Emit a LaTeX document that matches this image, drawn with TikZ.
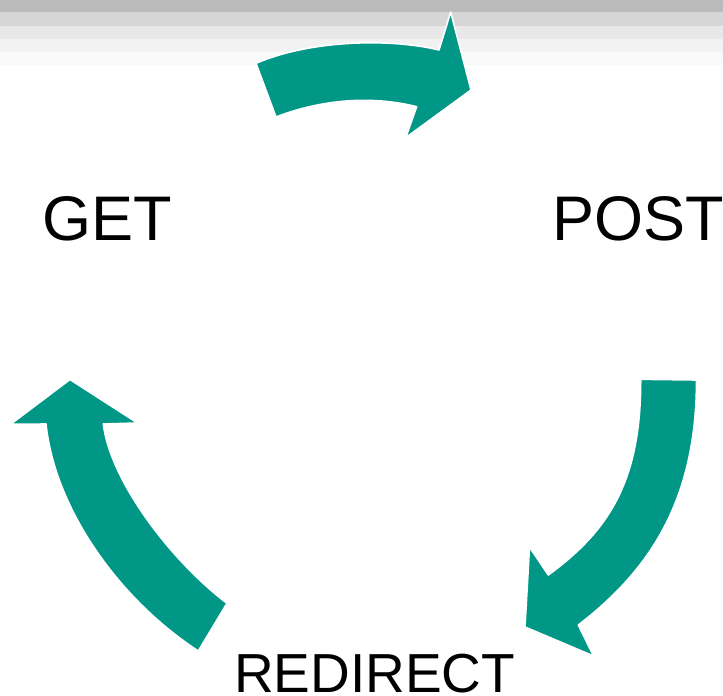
\documentclass[tikz,border=0pt]{standalone}
\usepackage{fontspec}
\setmainfont{Liberation Sans}
\usepackage{tikz}

\definecolor{prgteal}{RGB}{0,151,135}

\begin{document}
\begin{tikzpicture}[x=1pt,y=-1pt]
		\tikzstyle{verb}=[anchor=base west,inner sep=0pt,font=\fontsize{63}{70}\selectfont]
		\tikzstyle{cyclearrow}=[fill=prgteal,draw=white,line width=1.6pt,line join=round]

		\useasboundingbox (0,0) rectangle (723,696);

		% shaded band along the top
		\fill[black!27] (0,0) rectangle (723,12);
		\fill[black!16] (0,12) rectangle (723,26);
		\fill[black!9] (0,26) rectangle (723,39);
		\fill[black!5] (0,39) rectangle (723,52);
		\fill[black!2] (0,52) rectangle (723,65);

		\node[verb](get) at (42,240.7){GET};
		\node[verb](post) at (552,240){POST};
		\node[verb,font=\fontsize{55}{60}\selectfont](redirect) at (234,692){REDIRECT};

		% GET -> POST
		\draw[cyclearrow] (256,63.3) .. controls (310,40) and (390,38) .. (439,50)
			-- (450.7,12) -- (471,90) -- (405.7,137.7) -- (416.7,106.7)
			.. controls (370,95) and (320,100) .. (276,117) -- cycle;
		% POST -> REDIRECT
		\draw[cyclearrow] (640.7,379.3) -- (696.5,380) .. controls (696.5,500) and (650,570) .. (578.3,625)
			-- (593.5,656) -- (525,627) -- (529.5,547) -- (548.3,575)
			.. controls (610,530) and (641,480) .. (640.7,379.3) -- cycle;
		% REDIRECT -> GET
		\draw[cyclearrow] (70,379.5) -- (137.5,423) -- (103.3,424)
			.. controls (110,480) and (170,560) .. (227,603.3) -- (198.3,651)
			.. controls (120,600) and (55,510) .. (46,424) -- (10.5,424.3) -- cycle;
	\end{tikzpicture}
\end{document}
